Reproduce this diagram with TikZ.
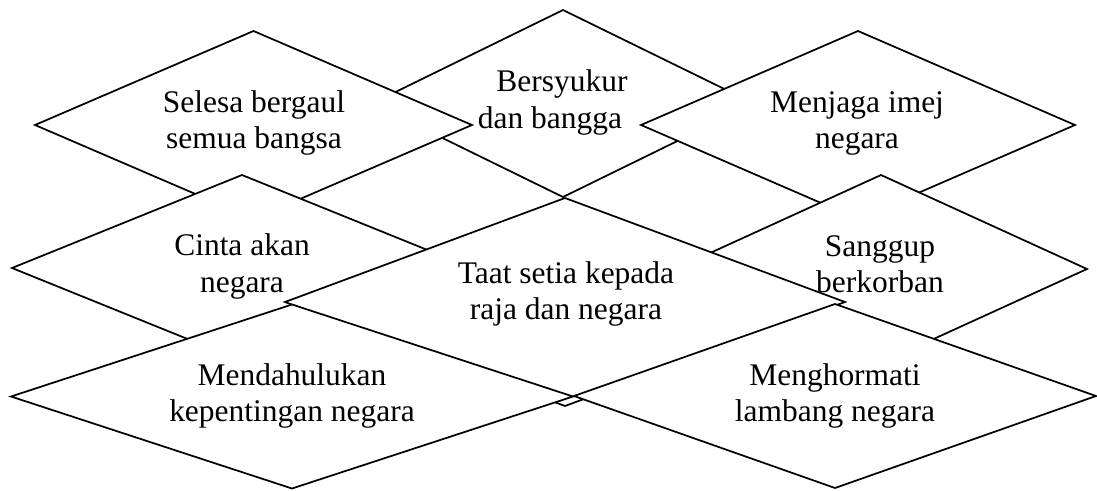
\documentclass[tikz,border=0pt]{standalone}
\usepackage{fontspec}
\setmainfont{Liberation Serif}
\usetikzlibrary{shapes.geometric}
\newcommand\lblfont{\fontsize{23.6pt}{27.4pt}\selectfont}
\begin{document}
\begin{tikzpicture}[x=0.75pt,y=-0.75pt,
  dia/.style 2 args={diamond, draw=black, fill=white, line width=1.3pt,
    inner sep=0pt, outer sep=0pt,
    minimum width={#1*0.75pt}, minimum height={#2*0.75pt}},
  lbl/.style={align=center, inner sep=0pt, font=\lblfont, text=black}]
\useasboundingbox (0,0) rectangle (1097,490);
% diamonds, back to front
\node[dia={382}{187}] (d2) at (563,103.5) {};
\node[dia={437}{188}] (d1) at (253.5,125) {};
\node[dia={434}{188}] (d3) at (858,125) {};
\node[dia={460}{186}] (d4) at (242,268) {};
\node[dia={412}{188}] (d6) at (881,269) {};
\node[dia={560}{208}] (d5) at (565,302) {};
\node[dia={562}{184}] (d7) at (292,396.5) {};
\node[dia={522}{184}] (d8) at (835,396) {};
% labels
\node[lbl] (t1) at (254,123) {\strut Selesa bergaul\\\strut semua bangsa};
\node[lbl] (t2) at (562,102.7) {\strut Bersyukur\\\strut dan bangga\hspace*{18pt}};
\node[lbl] (t3) at (857,123) {\strut Menjaga imej\\\strut negara};
\node[lbl] (t4) at (242,266.7) {\strut Cinta akan\\\strut negara};
\node[lbl] (t5) at (566,294.3) {\strut Taat setia kepada\\\strut raja dan negara};
\node[lbl] (t6) at (880,267) {\strut Sanggup\\\strut berkorban};
\node[lbl] (t7) at (292,396) {\strut Mendahulukan\\\strut kepentingan negara};
\node[lbl] (t8) at (835,396) {\strut Menghormati\\\strut lambang negara};
\end{tikzpicture}
\end{document}
